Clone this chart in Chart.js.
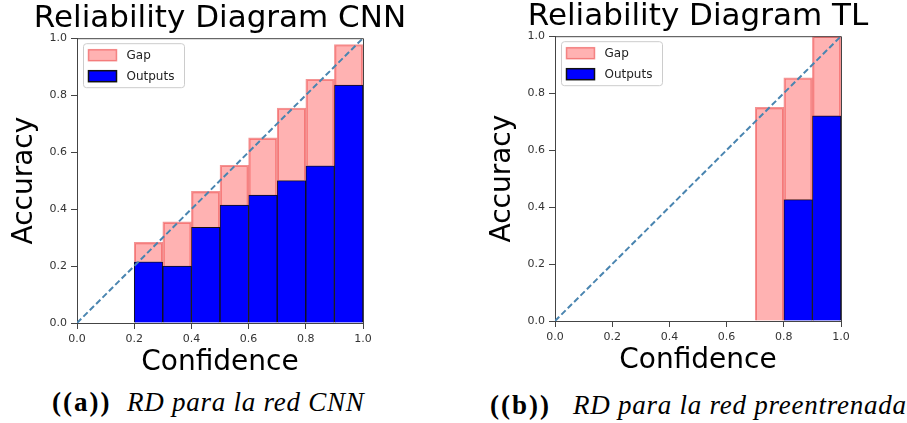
<!DOCTYPE html>
<html>
<head>
<meta charset="utf-8">
<script src="https://cdn.jsdelivr.net/npm/chart.js@4.4.0/dist/chart.umd.min.js"></script>
<style>
  html, body { margin: 0; padding: 0; background: #fff; overflow: hidden; width: 907px; height: 423px; }
  .box { position: absolute; width: 440px; height: 380px; }
  .cap { position: absolute; font-family: "Liberation Serif", serif; font-size: 27px; line-height: 1; color: #000; white-space: nowrap; }
  .cap.b { font-weight: bold; letter-spacing: 2px; }
  .cap.i { font-style: italic; letter-spacing: 0.75px; }
</style>
</head>
<body>
<div class="box" style="left:0;top:0"><canvas id="rdA" width="440" height="380"></canvas></div>
<div class="box" style="left:478px;top:-2px"><canvas id="rdB" width="440" height="380"></canvas></div>
<div class="cap b" style="left:52px;top:389px">((a))</div>
<div class="cap i" style="left:127px;top:389px">RD para la red CNN</div>
<div class="cap b" style="left:490px;top:392px">((b))</div>
<div class="cap i" style="left:573px;top:392px">RD para la red preentrenada</div>

<script>
// bin centres (10 bins of width 0.1)
var binCenters = [0.05, 0.15, 0.25, 0.35, 0.45, 0.55, 0.65, 0.75, 0.85, 0.95];

// CNN
var cnnAccuracy   = [0, 0, 0.215, 0.20, 0.336, 0.414, 0.449, 0.50, 0.552, 0.835];
var cnnConfidence = [0, 0, 0.283, 0.355, 0.462, 0.554, 0.650, 0.755, 0.856, 0.978];

// pretrained (TL)
var tlAccuracy   = [0, 0, 0, 0, 0, 0, 0, 0, 0.426, 0.72];
var tlConfidence = [0, 0, 0, 0, 0, 0, 0, 0.75, 0.854, 1.0];

var axisTicks = [0, 0.2, 0.4, 0.6, 0.8, 1.0];
var diagonal = [0, 1];

Chart.defaults.font.family = "'DejaVu Sans', sans-serif";

// legend drawn inside the plot, top left, with a box round it
var insideLegend = {
  id: 'insideLegend',
  afterDraw: function (chart) {
    var ctx = chart.ctx, a = chart.chartArea;
    var items = chart.data.datasets.filter(function (d) { return d.type === 'bar'; });
    var x = a.left + 6.5, y = a.top + 5.5, w = 101, h = 44;
    ctx.save();
    ctx.fillStyle = 'rgba(255,255,255,0.8)';
    ctx.strokeStyle = '#cccccc';
    ctx.lineWidth = 1;
    ctx.beginPath();
    ctx.roundRect(x, y, w, h, 3);
    ctx.fill();
    ctx.stroke();
    ctx.font = '12px "DejaVu Sans"';
    ctx.textBaseline = 'middle';
    items.forEach(function (d, i) {
      var py = y + 6 + i * 21;
      ctx.fillStyle = d.legendFill;
      ctx.fillRect(x + 5, py, 28, 11);
      ctx.strokeStyle = d.borderColor;
      ctx.lineWidth = 1.5;
      ctx.strokeRect(x + 5, py, 28, 11);
      ctx.fillStyle = '#222';
      ctx.fillText(d.label, x + 43, py + 6);
    });
    ctx.restore();
  }
};

// top and right spines
var frame = {
  id: 'frame',
  afterDatasetsDraw: function (chart) {
    var ctx = chart.ctx, a = chart.chartArea;
    ctx.save();
    ctx.strokeStyle = '#444';
    ctx.lineWidth = 1;
    ctx.beginPath();
    ctx.moveTo(a.left, a.top + 0.5);
    ctx.lineTo(a.right + 0.5, a.top + 0.5);
    ctx.lineTo(a.right + 0.5, a.bottom);
    ctx.stroke();
    ctx.restore();
  }
};

function makeChart(id, title, acc, conf) {
  var gapData = binCenters.map(function (c, i) { return { x: c, y: [acc[i], conf[i]] }; });
  var outData = binCenters.map(function (c, i) { return { x: c, y: acc[i] }; });
  var lineData = diagonal.map(function (v) { return { x: v, y: v }; });

  return new Chart(document.getElementById(id), {
    type: 'bar',
    data: {
      datasets: [{
        type: 'line',
        label: 'diag',
        data: lineData,
        borderColor: '#4a85b0',
        borderWidth: 2,
        borderDash: [6, 3],
        pointRadius: 0,
        fill: false,
        order: 0
      }, {
        type: 'bar',
        label: 'Gap',
        data: gapData,
        backgroundColor: 'rgba(255,0,0,0.3)',
        legendFill: 'rgba(255,0,0,0.3)',
        borderColor: 'rgba(235,60,60,0.55)',
        borderWidth: 1.5,
        barPercentage: 1,
        categoryPercentage: 1,
        order: 1
      }, {
        type: 'bar',
        label: 'Outputs',
        data: outData,
        backgroundColor: '#0000ff',
        legendFill: '#0000ff',
        borderColor: '#111',
        borderWidth: 1,
        barPercentage: 1,
        categoryPercentage: 1,
        order: 2
      }]
    },
    options: {
      responsive: false,
      animation: false,
      layout: { padding: 0 },
      plugins: {
        legend: { display: false },
        tooltip: { enabled: false },
        title: {
          display: true,
          text: title,
          color: '#000',
          font: { size: 31, weight: 'normal' },
          padding: { top: 0, bottom: 1 }
        }
      },
      scales: {
        x: {
          type: 'linear',
          min: 0, max: 1,
          offset: false,
          stacked: true,
          afterBuildTicks: function (s) { s.ticks = axisTicks.map(function (v) { return { value: v }; }); },
          afterFit: function (s) { s.height = 57; },
          grid: { display: true, drawOnChartArea: false, offset: false, tickLength: 6, color: '#444' },
          border: { display: true, color: '#444' },
          ticks: {
            color: '#333', padding: 4, font: { size: 11 }, maxRotation: 0,
            callback: function (v) { return v.toFixed(1); }
          },
          title: { display: true, text: 'Confidence', color: '#000', font: { size: 28 }, padding: { top: 0, bottom: 0 } }
        },
        y: {
          type: 'linear',
          min: 0, max: 1,
          afterBuildTicks: function (s) { s.ticks = axisTicks.map(function (v) { return { value: v }; }); },
          afterFit: function (s) { s.width = 77; },
          grid: { display: true, drawOnChartArea: false, tickLength: 6, color: '#444' },
          border: { display: true, color: '#444' },
          ticks: {
            color: '#333', padding: 4, font: { size: 11 },
            callback: function (v) { return v.toFixed(1); }
          },
          title: { display: true, text: 'Accuracy', color: '#000', font: { size: 28 }, padding: { top: 8, bottom: 0 } }
        },
        // empty right-hand axis so the plot sits centred under the title
        yPad: {
          position: 'right',
          display: true,
          grid: { display: false, drawTicks: false },
          border: { display: false },
          ticks: { display: false },
          afterFit: function (s) { s.width = 77; }
        }
      }
    },
    plugins: [frame, insideLegend]
  });
}

makeChart('rdA', 'Reliability Diagram CNN', cnnAccuracy, cnnConfidence);
makeChart('rdB', 'Reliability Diagram TL', tlAccuracy, tlConfidence);
</script>
</body>
</html>
